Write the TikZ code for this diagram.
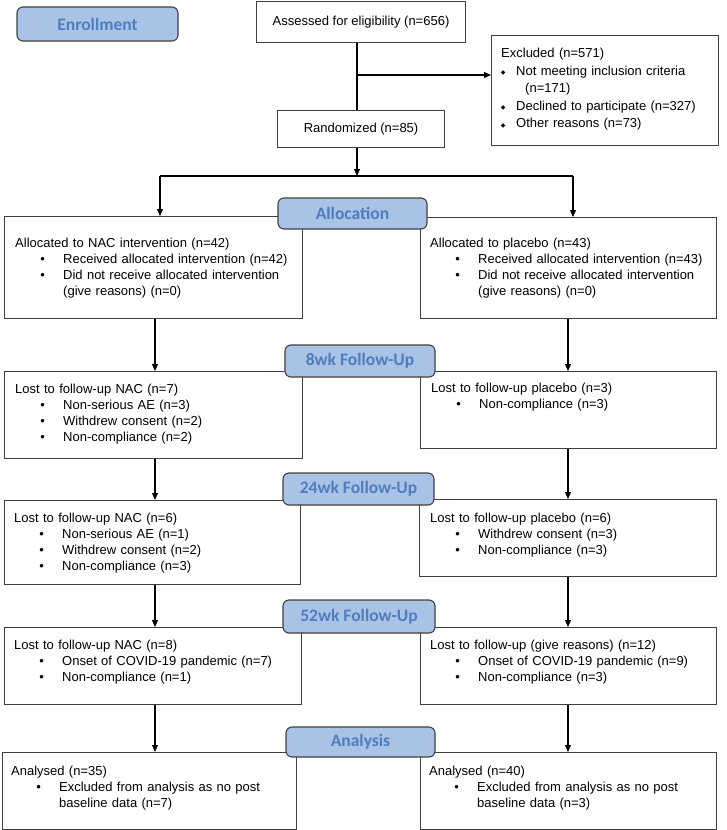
\documentclass[tikz,border=0pt]{standalone}
\usepackage{fontspec}
\setmainfont{Liberation Sans}
\newfontfamily\titrefont{Carlito}
\newfontfamily\symbfont{DejaVu Sans}
\usetikzlibrary{positioning}
\usetikzlibrary{arrows.meta}

\definecolor{pillfill}{RGB}{168,195,230}
\definecolor{pilltext}{RGB}{79,125,189}
\definecolor{cadre}{RGB}{64,64,64}

\tikzstyle{boite}  =[draw=cadre, line width=1.1pt, inner sep=0pt, anchor=north west, font=\fontsize{13}{16}\selectfont]
\tikzstyle{etape}  =[draw=cadre, line width=1.1pt, fill=pillfill, rounded corners=6pt, text=pilltext, inner sep=0pt, font=\titrefont\bfseries\fontsize{17.5}{20}\selectfont]
\tikzstyle{texte}  =[inner sep=0pt, align=left, text width=285pt, font=\fontsize{13}{16}\selectfont]
\tikzstyle{fleche} =[line width=1.1pt, -{Triangle[length=7pt,width=6pt]}]
\tikzstyle{trait}  =[line width=1.1pt]

\newcommand{\puce}{\hspace*{27.5pt}\makebox[0pt]{\textbullet}\hspace*{20.5pt}}
\newcommand{\suite}{\hspace*{48pt}}
\newcommand{\losange}{\hspace*{2pt}\makebox[0pt]{\raisebox{0.5pt}{\symbfont\fontsize{6}{6}\selectfont ◆}}\hspace*{13pt}}

\begin{document}
\begin{tikzpicture}[x=1pt,y=-1pt]

\useasboundingbox (0,0) rectangle (727,830);

%%%%%%%%%%%%%%%%%%%%%%%%
%%%%%%%%%%%%%%%%%%%%%%%%
%Columns of the connectors
%%%%%%%%%%%%%%%%%%%%%%%%
%%%%%%%%%%%%%%%%%%%%%%%%

\def \tronc {357}; %main vertical line
\def \colG {155}; %NAC column
\def \colD {568}; %placebo column

%%%%%%%%%%%%%%%%%%%%%%%%
%%%%%%%%%%%%%%%%%%%%%%%%
%Enrollment
%%%%%%%%%%%%%%%%%%%%%%%%
%%%%%%%%%%%%%%%%%%%%%%%%

\node[boite, minimum width=209pt, minimum height=41.4pt] (assess) at (256,0.6) {Assessed for eligibility (n=656)};
\node[boite, minimum width=227pt, minimum height=110pt] (excl) at (491,35) {};
\node[texte, text width=215pt, font=\fontsize{13}{17.5}\selectfont, below right=13pt and 10pt of excl.north west] (tExcl) {Excluded (n=571)\\
\losange Not meeting inclusion criteria\\
\hspace*{24pt}(n=171)\\
\losange Declined to participate (n=327)\\
\losange Other reasons (n=73)};
\node[boite, minimum width=167pt, minimum height=37pt] (rand) at (277,110) {Randomized (n=85)};

%%%%%%%%%%%%%%%%%%%%%%%%
%%%%%%%%%%%%%%%%%%%%%%%%
%Allocation
%%%%%%%%%%%%%%%%%%%%%%%%
%%%%%%%%%%%%%%%%%%%%%%%%

\node[boite, minimum width=298pt, minimum height=102pt] (alNAC) at (4,216) {};
\node[texte, below right=22pt and 11pt of alNAC.north west] (tAlNAC) {Allocated to NAC intervention (n=42)\\
\puce Received allocated intervention (n=42)\\
\puce Did not receive allocated intervention\\
\suite (give reasons) (n=0)};
\node[boite, minimum width=296pt, minimum height=101pt] (alPla) at (420,217) {};
\node[texte, below right=21pt and 10pt of alPla.north west] (tAlPla) {Allocated to placebo (n=43)\\
\puce Received allocated intervention (n=43)\\
\puce Did not receive allocated intervention\\
\suite (give reasons) (n=0)};

%%%%%%%%%%%%%%%%%%%%%%%%
%%%%%%%%%%%%%%%%%%%%%%%%
%Follow-up 8wk, 24wk, 52wk
%%%%%%%%%%%%%%%%%%%%%%%%
%%%%%%%%%%%%%%%%%%%%%%%%

\node[boite, minimum width=298pt, minimum height=87pt] (fuNAC8) at (4,371) {};
\node[texte, below right=13pt and 11pt of fuNAC8.north west] (tFuNAC8) {Lost to follow-up NAC (n=7)\\
\puce Non-serious AE (n=3)\\
\puce Withdrew consent (n=2)\\
\puce Non-compliance (n=2)};
\node[boite, minimum width=296pt, minimum height=77pt] (fuPla8) at (420,371) {};
\node[texte, below right=12pt and 11pt of fuPla8.north west] (tFuPla8) {Lost to follow-up placebo (n=3)\\
\puce Non-compliance (n=3)};

\node[boite, minimum width=296pt, minimum height=84pt] (fuNAC24) at (4,500) {};
\node[texte, below right=13pt and 10pt of fuNAC24.north west] (tFuNAC24) {Lost to follow-up NAC (n=6)\\
\puce Non-serious AE (n=1)\\
\puce Withdrew consent (n=2)\\
\puce Non-compliance (n=3)};
\node[boite, minimum width=297pt, minimum height=77pt] (fuPla24) at (419,499) {};
\node[texte, below right=14pt and 11pt of fuPla24.north west] (tFuPla24) {Lost to follow-up placebo (n=6)\\
\puce Withdrew consent (n=3)\\
\puce Non-compliance (n=3)};

\node[boite, minimum width=297pt, minimum height=77pt] (fuNAC52) at (4,627) {};
\node[texte, below right=13pt and 10pt of fuNAC52.north west] (tFuNAC52) {Lost to follow-up NAC (n=8)\\
\puce Onset of COVID-19 pandemic (n=7)\\
\puce Non-compliance (n=1)};
\node[boite, minimum width=296pt, minimum height=77pt] (fuPla52) at (420,627) {};
\node[texte, below right=13pt and 10pt of fuPla52.north west] (tFuPla52) {Lost to follow-up (give reasons) (n=12)\\
\puce Onset of COVID-19 pandemic (n=9)\\
\puce Non-compliance (n=3)};

%%%%%%%%%%%%%%%%%%%%%%%%
%%%%%%%%%%%%%%%%%%%%%%%%
%Analysis
%%%%%%%%%%%%%%%%%%%%%%%%
%%%%%%%%%%%%%%%%%%%%%%%%

\node[boite, minimum width=294.5pt, minimum height=77pt] (anNAC) at (1.5,752) {};
\node[texte, below right=14pt and 9.5pt of anNAC.north west] (tAnNAC) {Analysed (n=35)\\
\puce Excluded from analysis as no post\\
\suite baseline data (n=7)};
\node[boite, minimum width=296pt, minimum height=77pt] (anPla) at (420,752) {};
\node[texte, below right=14pt and 9pt of anPla.north west] (tAnPla) {Analysed (n=40)\\
\puce Excluded from analysis as no post\\
\suite baseline data (n=3)};

%%%%%%%%%%%%%%%%%%%%%%%%
%%%%%%%%%%%%%%%%%%%%%%%%
%Connectors
%%%%%%%%%%%%%%%%%%%%%%%%
%%%%%%%%%%%%%%%%%%%%%%%%

\coordinate (tronc) at (\tronc,0);
\coordinate (bras) at (\tronc,75);
\coordinate (partG) at (160,176);
\coordinate (partD) at (573,176);
\coordinate (colG) at (\colG,0);
\coordinate (colD) at (\colD,0);

\draw[trait] (assess.south -| tronc) -- (rand.north -| tronc);
\draw[fleche] (bras) -- (bras -| excl.west);
\draw[fleche] (rand.south -| tronc) -- (tronc |- partG);
\draw[trait] (partG) -- (partD);
\draw[fleche] (partG) -- (partG |- alNAC.north);
\draw[fleche] (partD) -- (partD |- alPla.north);

\draw[fleche] (alNAC.south -| colG) -- (fuNAC8.north -| colG);
\draw[fleche] (alPla.south -| colD) -- (fuPla8.north -| colD);
\draw[fleche] (fuNAC8.south -| colG) -- (fuNAC24.north -| colG);
\draw[fleche] (fuPla8.south -| colD) -- (fuPla24.north -| colD);
\draw[fleche] (fuNAC24.south -| colG) -- (fuNAC52.north -| colG);
\draw[fleche] (fuPla24.south -| colD) -- (fuPla52.north -| colD);
\draw[fleche] (fuNAC52.south -| colG) -- (anNAC.north -| colG);
\draw[fleche] (fuPla52.south -| colD) -- (anPla.north -| colD);

%%%%%%%%%%%%%%%%%%%%%%%%
%%%%%%%%%%%%%%%%%%%%%%%%
%Stage labels (drawn last, over the boxes)
%%%%%%%%%%%%%%%%%%%%%%%%
%%%%%%%%%%%%%%%%%%%%%%%%

\node[etape, minimum width=161pt, minimum height=34pt] (enrol) at (97.5,24) {Enrollment};
\node[etape, minimum width=149pt, minimum height=31pt] (alloc) at (352.5,213.5) {Allocation};
\node[etape, minimum width=150pt, minimum height=32pt] (fu8) at (360,361) {8wk Follow-Up};
\node[etape, minimum width=151pt, minimum height=32pt] (fu24) at (358.5,489) {24wk Follow-Up};
\node[etape, minimum width=152pt, minimum height=33pt] (fu52) at (359,616.5) {52wk Follow-Up};
\node[etape, minimum width=149pt, minimum height=30pt] (analysis) at (360.5,742) {Analysis};

\end{tikzpicture}
\end{document}
